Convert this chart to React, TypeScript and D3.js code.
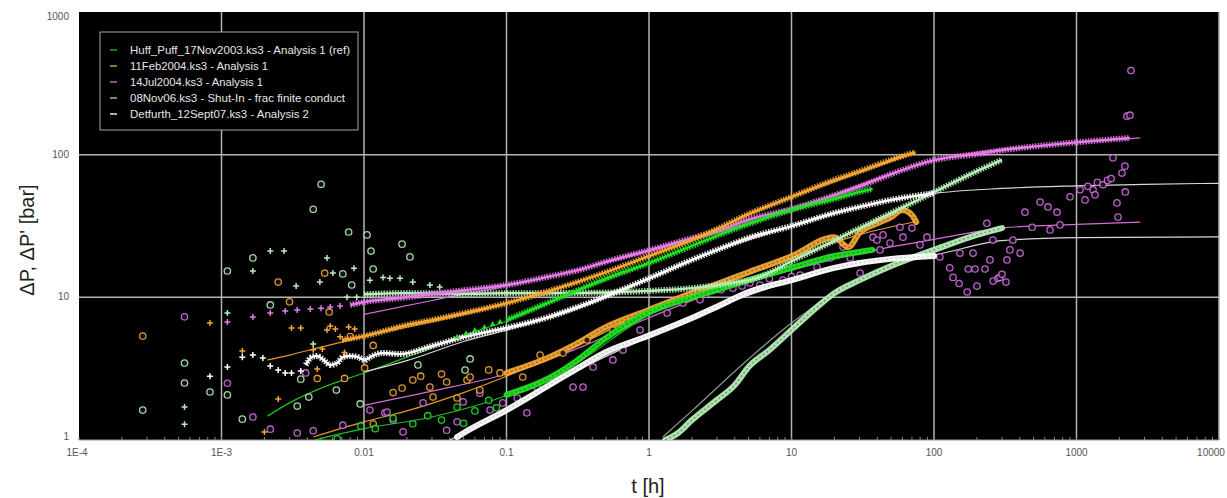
import React from 'react';
import * as d3 from 'd3';

type Pt = [number, number];

const W = 1227;
const H = 498;
const PLOT = { left: 79, right: 1219, top: 12, bottom: 440 };

const xTickValues = [1e-4, 1e-3, 1e-2, 1e-1, 1, 10, 100, 1000, 10000];
const xTickLabels = ['1E-4', '1E-3', '0.01', '0.1', '1', '10', '100', '1000', '10000'];
const yTickValues = [1, 10, 100, 1000];
const yTickLabels = ['1', '10', '100', '1000'];

const legendLabels = [
  'Huff_Puff_17Nov2003.ks3 - Analysis 1 (ref)',
  '11Feb2004.ks3 - Analysis 1',
  '14Jul2004.ks3 - Analysis 1',
  '08Nov06.ks3 - Shut-In - frac finite conduct',
  'Detfurth_12Sept07.ks3 - Analysis 2',
];
const legendWidths = [220, 138, 133, 215, 179];

// ---------- Huff_Puff_17Nov2003 (green) ----------
const greenDpSparse: Pt[] = [[0.045, 5.3], [0.052, 5.6], [0.06, 5.9], [0.07, 6.2], [0.08, 6.5], [0.09, 6.75]];
const greenDpBand: Pt[] = [[0.1, 6.94], [0.2, 9.27], [0.3, 11.0], [0.5, 13.6], [1, 17.4], [2, 22.9], [3, 27.0], [5, 32.6], [10, 41.0], [20, 48.9], [30, 54.8], [37, 57.6]];
const greenDpModel: Pt[] = [[0.0021, 1.47], [0.003, 1.82], [0.005, 2.31], [0.01, 2.95], [0.02, 3.81], [0.03, 4.42], [0.04, 5.0], [0.1, 6.8], [0.3, 10.8], [1, 17.2], [3, 26.8], [10, 40.8], [37, 57.3]];
const greenDerivScatter: Pt[] = [[0.0065, 1.02], [0.0095, 1.25], [0.012, 1.2], [0.016, 1.42], [0.022, 1.3], [0.028, 1.48], [0.035, 1.38], [0.045, 1.7], [0.05, 1.31], [0.06, 1.6], [0.075, 1.9], [0.085, 1.68]];
const greenDerivBand: Pt[] = [[0.1, 2.07], [0.2, 2.72], [0.3, 3.5], [0.5, 5.2], [1, 7.9], [2, 10.0], [3, 11.3], [5, 13.2], [10, 16.1], [20, 19.5], [30, 20.8], [37, 21.5]];
const greenDerivModel: Pt[] = [[0.0045, 1.0], [0.01, 1.2], [0.03, 1.45], [0.1, 2.05], [0.3, 3.4], [1, 7.5], [3, 11.0], [10, 15.8], [37, 21.2]];

// ---------- 11Feb2004 (orange) ----------
const orangeDpScatter: Pt[] = [[0.00083, 6.6], [0.0014, 4.2], [0.002, 1.14], [0.0025, 1.94], [0.0031, 6.1], [0.0036, 6.1], [0.0044, 4.3], [0.0047, 3.15], [0.0051, 4.35], [0.0055, 5.9], [0.0058, 6.3], [0.0063, 6.0], [0.0068, 5.3], [0.0073, 4.1], [0.0078, 6.2], [0.0086, 6.0]];
const orangeDpBand: Pt[] = [[0.007, 5.02], [0.01, 5.35], [0.02, 6.4], [0.03, 6.94], [0.05, 7.75], [0.1, 9.1], [0.2, 11.1], [0.3, 12.6], [0.5, 15.0], [1, 19.5], [2, 25.2], [3, 30.1], [5, 38.4], [10, 50.6], [20, 66.6], [30, 76.5], [50, 92.1], [74, 104]];
const orangeDpModel: Pt[] = [[0.0021, 3.64], [0.003, 3.94], [0.005, 4.48], [0.01, 5.3], [0.1, 9.0], [1, 19.3], [10, 50], [74, 103]];
const orangeDerivScatter: Pt[] = [[0.00028, 5.35], [0.0025, 12.8], [0.003, 9.3], [0.0053, 14.8], [0.0057, 7.9], [0.0047, 2.7], [0.0073, 2.7], [0.0101, 3.2], [0.0116, 4.6], [0.008, 5.3], [0.0116, 1.3], [0.016, 2.15], [0.0185, 2.31], [0.022, 2.63], [0.025, 2.8], [0.029, 2.35], [0.0305, 2.0], [0.035, 2.9], [0.038, 2.55], [0.045, 1.97], [0.0528, 2.63], [0.0555, 2.76], [0.065, 2.24], [0.075, 3.1], [0.09, 2.95], [0.13, 2.76], [0.172, 3.94], [0.249, 4.07], [0.367, 5.02], [0.558, 5.9], [0.7, 6.6]];
const orangeDerivBand: Pt[] = [[0.1, 2.95], [0.2, 3.81], [0.3, 4.64], [0.5, 6.19], [1, 8.16], [2, 10.7], [3, 12.4], [5, 15.0], [10, 19.4], [20, 26.4], [25, 22.4], [30, 28.3], [40, 33.0], [50, 36.5], [60, 41.0], [70, 37.8], [75, 33.7]];
const orangeDerivModel: Pt[] = [[0.0044, 1.05], [0.01, 1.34], [0.02, 1.6], [0.05, 2.15], [0.1, 2.8], [0.3, 4.5], [1, 8.0], [3, 12.2], [10, 19.0], [30, 27.5], [75, 34]];

// ---------- 14Jul2004 (magenta) ----------
const magentaDpScatter: Pt[] = [[0.0011, 6.71], [0.00166, 7.28], [0.0022, 7.76], [0.0028, 8.02], [0.0034, 8.15], [0.0042, 8.28], [0.005, 8.4], [0.0058, 8.55], [0.0068, 8.7]];
const magentaDpBand: Pt[] = [[0.008, 8.83], [0.01, 9.27], [0.018, 9.89], [0.034, 10.7], [0.05, 11.2], [0.1, 12.2], [0.2, 14.0], [0.32, 15.5], [0.5, 17.8], [1, 21.4], [2, 26.0], [3.15, 29.6], [5, 35.0], [10, 41.6], [20, 52.0], [32, 61.2], [50, 73.0], [100, 91.6], [200, 101], [315, 108], [1000, 122], [2370, 131]];
const magentaDpModel: Pt[] = [[0.01, 7.6], [0.03, 9.5], [0.1, 12.0], [1, 21.0], [10, 41.0], [100, 91.0], [1000, 122], [2800, 131]];
const magentaDerivScatter: Pt[] = [
  [0.00055, 7.3], [0.0011, 2.5], [0.00166, 1.45], [0.0022, 1.19], [0.0034, 1.12], [0.0044, 1.16], [0.0039, 2.95], [0.0071, 1.27],
  [0.011, 1.62], [0.014, 1.55], [0.016, 1.38], [0.0145, 1.57], [0.0188, 1.14], [0.026, 1.82], [0.038, 1.17], [0.045, 1.34],
  [0.0496, 1.85], [0.065, 2.13], [0.0766, 1.62], [0.094, 1.82], [0.119, 1.97], [0.139, 1.55], [0.164, 2.35], [0.212, 2.72],
  [0.293, 2.35], [0.344, 2.35], [0.405, 3.25], [0.558, 3.64], [0.657, 4.27], [0.865, 5.9], [1.34, 7.76], [1.73, 9.12],
  [2.28, 9.6], [2.5, 10.5], [3.2, 11.3], [3.88, 11.6], [4.5, 12.0], [5.1, 12.6], [6.0, 12.2], [7.0, 13.5], [8.7, 13.2],
  [10, 14.0], [11.5, 14.3], [15.1, 16.3], [18.6, 18.9], [23.0, 22.5], [25.8, 18.9], [30.3, 14.8], [37.3, 26.4], [39.8, 25.2],
  [41.8, 21.5], [43.9, 27.4], [49.1, 24.0], [57.7, 31.0], [60.6, 26.4], [70, 30.6], [79.8, 23.3], [89.3, 26.4], [110, 19.2],
  [129, 16.1], [136, 13.8], [150, 12.5], [152, 20.4], [171, 10.9], [174, 15.8], [188, 20.4], [194, 15.8], [200, 12.0],
  [228, 15.8], [235, 33.0], [247, 18.3], [259, 25.2], [260, 13.0], [281, 13.6], [290, 13.8], [300, 14.5], [320, 12.8],
  [325, 18.3], [341, 21.5], [358, 25.2], [402, 20.4], [435, 39.5], [488, 31.0], [555, 46.5], [631, 43.0], [652, 29.7],
  [730, 39.5], [766, 32.2], [900, 50.6], [1059, 56.7], [1148, 48.2], [1200, 60], [1306, 56.7], [1349, 52.3], [1400, 64],
  [1535, 61.5], [1650, 66], [1750, 68], [1803, 95], [1923, 45.9], [1955, 36.5], [2085, 74.3], [2188, 83.1], [2200, 54.8],
  [2260, 186], [2373, 189], [2410, 389],
];
const magentaDerivModel: Pt[] = [[0.01, 1.75], [0.03, 2.2], [0.1, 2.9], [0.3, 4.3], [1, 7.2], [3, 11.0], [10, 15.5], [30, 20.4], [100, 25.5], [300, 30.6], [1000, 32.5], [2800, 33.7]];

// ---------- 08Nov06 (light green) ----------
const lgDpScatter: Pt[] = [[0.00055, 1.7], [0.00055, 1.29], [0.0011, 7.76], [0.00166, 15.3], [0.0022, 21.1], [0.00275, 21.1], [0.00334, 12.0], [0.0044, 4.71], [0.0049, 12.8], [0.0055, 18.9], [0.00605, 14.8], [0.0076, 10.0], [0.0085, 16.0], [0.0089, 10.0], [0.011, 13.2], [0.0136, 13.8], [0.0152, 13.6], [0.0179, 13.6], [0.022, 12.8], [0.029, 12.2], [0.034, 11.8]];
const lgDpBand: Pt[] = [[0.01, 10.5], [0.02, 10.7], [0.05, 10.6], [0.1, 10.7], [0.2, 10.7], [0.5, 10.8], [1, 11.1], [2, 11.6], [3, 12.2], [6, 13.9], [10, 17.9], [20, 25.0], [30, 30.5], [50, 39.0], [100, 54.6], [200, 76.6], [300, 92.0]];
const lgDerivScatter: Pt[] = [[0.00028, 1.62], [0.00055, 3.46], [0.00055, 2.51], [0.00083, 2.17], [0.0011, 15.3], [0.0011, 2.07], [0.00166, 18.9], [0.0022, 8.84], [0.0014, 1.4], [0.0044, 41.4], [0.005, 62], [0.0078, 28.7], [0.0105, 27.4], [0.0112, 21.1], [0.0185, 23.6], [0.021, 19.2], [0.0082, 12.2], [0.0116, 15.8], [0.0071, 14.6], [0.0064, 2.24], [0.0041, 2.0], [0.0036, 2.67], [0.0034, 1.73], [0.0094, 1.79], [0.0555, 3.7], [0.0512, 3.09], [0.0239, 3.36]];
const lgDerivBand: Pt[] = [[1.3, 1.0], [1.6, 1.12], [2, 1.38], [3, 1.91], [4, 2.43], [5, 3.25], [7, 4.27], [10, 5.9], [15, 8.5], [20, 10.7], [30, 13.2], [50, 16.6], [100, 21.5], [200, 27.4], [300, 30.6]];
const lgDerivModel: Pt[] = [[1.25, 1.05], [2, 1.6], [5, 3.7], [10, 6.6], [20, 10.7], [50, 16.6], [100, 21.5], [300, 30.6]];

// ---------- Detfurth_12Sept07 (white) ----------
const whiteDpScatter: Pt[] = [[0.00083, 2.8], [0.0011, 3.25], [0.0014, 3.8], [0.00166, 3.94], [0.00195, 3.76], [0.0022, 3.3], [0.0025, 3.09], [0.0028, 2.95], [0.0031, 2.95], [0.0036, 3.04]];
const whiteDpBand: Pt[] = [[0.0039, 3.36], [0.0043, 3.81], [0.0047, 3.88], [0.0052, 3.64], [0.0058, 3.36], [0.0065, 3.47], [0.0071, 3.81], [0.008, 3.88], [0.0091, 3.81], [0.0101, 3.64], [0.0114, 3.88], [0.0136, 4.07], [0.018, 4.0], [0.03, 4.56], [0.05, 5.27], [0.1, 6.1], [0.2, 7.3], [0.3, 8.4], [0.5, 10.2], [1, 13.6], [2, 18.3], [3, 21.5], [5, 26.1], [10, 31.6], [20, 39.0], [30, 43.0], [50, 48.2], [100, 53.7]];
const whiteDpModel: Pt[] = [[0.01, 3.0], [0.02, 3.6], [0.05, 4.9], [0.1, 5.9], [0.3, 8.2], [1, 13.4], [3, 21.3], [10, 31.4], [30, 42.8], [100, 53.5], [300, 58.0], [1000, 60.5], [3000, 62.0], [10000, 63.0]];
const whiteDerivBand: Pt[] = [[0.045, 1.05], [0.05, 1.12], [0.1, 1.62], [0.2, 2.43], [0.3, 3.09], [0.5, 4.14], [1, 5.4], [2, 7.16], [3, 8.6], [5, 10.9], [10, 13.2], [20, 16.1], [30, 17.4], [50, 18.6], [100, 19.5]];
const whiteDerivModel: Pt[] = [[0.04, 1.0], [0.1, 1.58], [0.3, 3.0], [1, 5.3], [3, 8.5], [10, 13.0], [30, 17.2], [100, 19.8], [300, 25.0], [1000, 26.2], [10000, 26.5]];

const COLORS = {
  green: '#22e022',
  orange: '#f3a634',
  magenta: '#e57ae8',
  magentaRing: '#d06ee0',
  lightGreen: '#b6eeb6',
  white: '#ffffff',
};
const legendColors = ['#1f9a1f', '#a89848', '#b060b8', '#9aa89a', '#d8d8d8'];

type Series = {
  color: string;
  modelColor: string;
  dpScatter: Pt[];
  dpBand: Pt[];
  dpModel: Pt[];
  derivScatter: Pt[];
  derivBand: Pt[];
  derivModel: Pt[];
  ringColor?: string;
  bandTexture: number;
};

const seriesList: Series[] = [
  { color: COLORS.lightGreen, modelColor: '#8c9a8c', dpScatter: lgDpScatter, dpBand: lgDpBand, dpModel: [], derivScatter: lgDerivScatter, derivBand: lgDerivBand, derivModel: lgDerivModel, bandTexture: 0.35 },
  { color: COLORS.magenta, modelColor: '#d86cd8', dpScatter: magentaDpScatter, dpBand: magentaDpBand, dpModel: magentaDpModel, derivScatter: magentaDerivScatter, derivBand: [], derivModel: magentaDerivModel, ringColor: COLORS.magentaRing, bandTexture: 0.35 },
  { color: COLORS.orange, modelColor: '#e09a30', dpScatter: orangeDpScatter, dpBand: orangeDpBand, dpModel: orangeDpModel, derivScatter: orangeDerivScatter, derivBand: orangeDerivBand, derivModel: orangeDerivModel, bandTexture: 0.35 },
  { color: COLORS.green, modelColor: '#1fc01f', dpScatter: [], dpBand: greenDpBand, dpModel: greenDpModel, derivScatter: greenDerivScatter, derivBand: greenDerivBand, derivModel: greenDerivModel, bandTexture: 0.3 },
  { color: COLORS.white, modelColor: '#d8d8d8', dpScatter: whiteDpScatter, dpBand: whiteDpBand, dpModel: whiteDpModel, derivScatter: [], derivBand: whiteDerivBand, derivModel: whiteDerivModel, bandTexture: 0.15 },
];

export default function App() {
  const x = d3.scaleLog().domain([1e-4, 1e4]).range([PLOT.left, PLOT.right]);
  const y = d3.scaleLog().domain([1, 1000]).range([PLOT.bottom, PLOT.top]);
  const line = d3.line<Pt>().x((d) => x(d[0])).y((d) => y(d[1])).curve(d3.curveMonotoneX);
  const minorTicks = x.ticks();
  const font = "'Liberation Sans', Arial, sans-serif";

  return (
    <svg width={W} height={H} style={{ position: 'absolute', left: 0, top: 0, background: '#fff' }} fontFamily={font}>
      <defs>
        <clipPath id="plotClip">
          <rect x={PLOT.left} y={PLOT.top} width={PLOT.right - PLOT.left} height={PLOT.bottom - PLOT.top} />
        </clipPath>
      </defs>
      <rect x={PLOT.left} y={PLOT.top} width={PLOT.right - PLOT.left} height={PLOT.bottom - PLOT.top} fill="#000" />

      {/* grid */}
      {xTickValues.slice(1).map((v) => (
        <line key={'gx' + v} x1={x(v)} x2={x(v)} y1={PLOT.top} y2={PLOT.bottom} stroke="#b4b4b4" strokeWidth={1.5} />
      ))}
      {yTickValues.slice(1, 3).map((v) => (
        <line key={'gy' + v} x1={PLOT.left} x2={PLOT.right} y1={y(v)} y2={y(v)} stroke="#b4b4b4" strokeWidth={1.5} />
      ))}
      <line x1={PLOT.left} x2={PLOT.right} y1={PLOT.bottom} y2={PLOT.bottom} stroke="#9a9a9a" strokeWidth={1} />
      {minorTicks.map((v, i) => (
        <line key={'mt' + i} x1={x(v)} x2={x(v)} y1={PLOT.bottom} y2={PLOT.bottom - 3} stroke="#8a8a8a" strokeWidth={1} />
      ))}

      <g clipPath="url(#plotClip)">
        {/* model lines */}
        {seriesList.map((s, i) => (
          <g key={'m' + i}>
            {s.dpModel.length > 0 && <path d={line(s.dpModel) || ''} fill="none" stroke={s.modelColor} strokeWidth={1.2} />}
            {s.derivModel.length > 0 && <path d={line(s.derivModel) || ''} fill="none" stroke={s.modelColor} strokeWidth={1.2} />}
          </g>
        ))}
        {/* derivative data */}
        {seriesList.map((s, i) => (
          <g key={'d' + i}>
            {s.derivBand.length > 0 && (
              <g>
                <path d={line(s.derivBand) || ''} fill="none" stroke={s.color} strokeWidth={6} strokeLinecap="round" opacity={0.95} />
                <path d={line(s.derivBand) || ''} fill="none" stroke="#000" strokeWidth={1.4} strokeDasharray="2 2.5" opacity={s.bandTexture} />
              </g>
            )}
            {s.derivScatter.map((p, j) => (
              <circle key={j} cx={x(p[0])} cy={y(p[1])} r={3.2} fill="#111" stroke={s.ringColor || s.color} strokeWidth={1.3} opacity={0.9} />
            ))}
          </g>
        ))}
        {/* pressure data */}
        {seriesList.map((s, i) => (
          <g key={'p' + i}>
            {s.dpBand.length > 0 && (
              <g>
                <path d={line(s.dpBand) || ''} fill="none" stroke={s.color} strokeWidth={6} strokeDasharray="1.6 1.2" opacity={0.85} />
                <path d={line(s.dpBand) || ''} fill="none" stroke={s.color} strokeWidth={2.4} />
              </g>
            )}
            {s.dpScatter.map((p, j) => (
              <path key={j} d={`M${x(p[0]) - 3},${y(p[1])}H${x(p[0]) + 3}M${x(p[0])},${y(p[1]) - 3}V${y(p[1]) + 3}`} stroke={s.color} strokeWidth={1.5} />
            ))}
          </g>
        ))}
        {greenDpSparse.map((p, j) => (
          <path key={'gt' + j} d={`M${x(p[0])},${y(p[1]) - 3}L${x(p[0]) + 2.8},${y(p[1]) + 2}L${x(p[0]) - 2.8},${y(p[1]) + 2}Z`} fill={COLORS.green} />
        ))}
      </g>

      {/* legend */}
      <rect x={100} y={32} width={258} height={98} fill="#000" stroke="#a8a8a8" strokeWidth={1} />
      {legendLabels.map((t, i) => (
        <g key={'lg' + i}>
          <line x1={110} x2={117} y1={50 + i * 16} y2={50 + i * 16} stroke={legendColors[i]} strokeWidth={1.6} />
          <text x={130} y={54 + i * 16} fontSize={11.5} fill="#e6e6e6" textLength={legendWidths[i]} lengthAdjust="spacingAndGlyphs">
            {t}
          </text>
        </g>
      ))}

      {/* axes labels */}
      {xTickValues.map((v, i) => (
        <text key={'xl' + i} x={x(v) + (i === 0 ? -2 : i === xTickValues.length - 1 ? -8 : 0)} y={456} fontSize={10} fill="#555" textAnchor="middle">
          {xTickLabels[i]}
        </text>
      ))}
      {yTickValues.map((v, i) => (
        <text key={'yl' + i} x={69} y={y(v) + (i === 0 ? 0 : i === yTickValues.length - 1 ? 8 : 3)} fontSize={10} fill="#555" textAnchor="end">
          {yTickLabels[i]}
        </text>
      ))}
      <text x={648} y={493} fontSize={20} fill="#222" textAnchor="middle">t [h]</text>
      <text transform="translate(34,240) rotate(-90)" fontSize={20} fill="#222" textAnchor="middle">ΔP, ΔP' [bar]</text>
    </svg>
  );
}
